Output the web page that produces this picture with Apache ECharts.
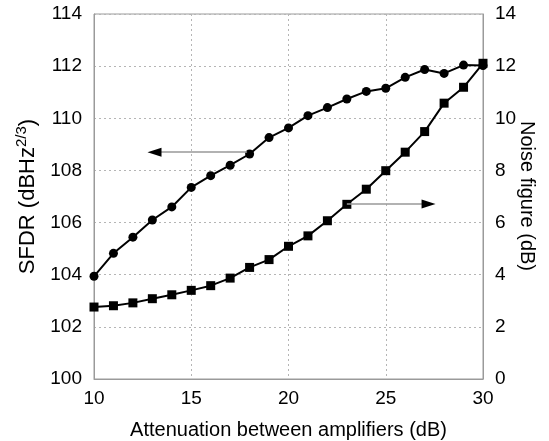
<!DOCTYPE html>
<html><head><meta charset="utf-8">
<script src="https://cdn.jsdelivr.net/npm/echarts@6/dist/echarts.min.js"></script>
<style>html,body{margin:0;padding:0;background:#fff}#c{width:549px;height:441px}</style>
</head><body><div id="c"></div>
<script>
const attenuation = [10,11,12,13,14,15,16,17,18,19,20,21,22,23,24,25,26,27,28,29,30];
const sfdr = [103.94,104.82,105.44,106.10,106.60,107.35,107.80,108.20,108.63,109.26,109.63,110.10,110.41,110.74,111.03,111.15,111.57,111.87,111.72,112.04,112.02];
const noiseFigure = [2.76,2.81,2.92,3.08,3.23,3.40,3.58,3.87,4.28,4.58,5.09,5.49,6.07,6.70,7.28,7.99,8.70,9.49,10.58,11.19,12.11];
const xTicks = [10,15,20,25,30];
const leftTicks = [100,102,104,106,108,110,112,114];
const rightTicks = [0,2,4,6,8,10,12,14];
// annotation arrows (data coordinates)
const sfdrArrow = {from:[17.87,108.7], to:[13.3,108.7], head:[13.11,108.7]};
const nfArrow = {from:[23.0,6.71], to:[26.9,6.71], head:[27.2,6.71]};
const rightAxisTitle = 'Noise figure (dB)';

const font = 'Liberation Sans, Arial, sans-serif';
const fs = 19;
const fsName = 20;
const chart = echarts.init(document.getElementById('c'));
chart.setOption({
  animation:false,
  backgroundColor:'#fff',
  grid:{left:94,right:66,top:14,bottom:62,containLabel:false,outerBoundsMode:'none',show:true,borderColor:'#9a9a9a',borderWidth:1,backgroundColor:'transparent'},
  graphic:[{type:'text',x:527,y:196,rotation:-Math.PI/2,silent:true,
    style:{text:rightAxisTitle,font:fsName+'px '+font,fill:'#000',textAlign:'center',textVerticalAlign:'middle'}}],
  xAxis:{type:'value',min:xTicks[0],max:xTicks[xTicks.length-1],interval:5,
    name:'Attenuation between amplifiers (dB)',nameLocation:'middle',nameGap:41,nameMoveOverlap:false,
    nameTextStyle:{fontFamily:font,fontSize:fsName,color:'#000'},
    axisLine:{lineStyle:{color:'#9a9a9a'}},axisTick:{show:false},
    axisLabel:{fontFamily:font,fontSize:fs,color:'#000',margin:10},
    splitLine:{show:true,lineStyle:{color:'#b5b5b5',type:[2,3]}}},
  yAxis:[
    {type:'value',min:leftTicks[0],max:leftTicks[leftTicks.length-1],interval:2,
     name:'{n|SFDR (dBHz}{s|2/3}{n|)}',nameLocation:'middle',nameGap:53,nameRotate:90,
     nameTextStyle:{rich:{n:{fontFamily:font,fontSize:22,color:'#000'},s:{fontFamily:font,fontSize:15,color:'#000',verticalAlign:'top',padding:[0,0,12,0]}}},
     axisLine:{show:true,lineStyle:{color:'#9a9a9a'}},axisTick:{show:false},
     axisLabel:{fontFamily:font,fontSize:fs,color:'#000',margin:12},
     splitLine:{show:true,lineStyle:{color:'#b5b5b5',type:[2,3]}}},
    {type:'value',min:rightTicks[0],max:rightTicks[rightTicks.length-1],interval:2,position:'right',
     axisLine:{show:true,lineStyle:{color:'#9a9a9a'}},axisTick:{show:false},
     axisLabel:{fontFamily:font,fontSize:fs,color:'#000',margin:12},
     splitLine:{show:false}}
  ],
  series:[
    {type:'line',yAxisIndex:0,data:attenuation.map((x,i)=>[x,sfdr[i]]),
     symbol:'circle',symbolSize:9,lineStyle:{color:'#000',width:2},itemStyle:{color:'#000'},
     markLine:{silent:true,symbol:'none',lineStyle:{color:'#999',width:1.5,type:'solid'},label:{show:false},
       data:[[{coord:sfdrArrow.from},{coord:sfdrArrow.to}]]},
     markPoint:{silent:true,symbol:'triangle',symbolSize:[9,14],symbolRotate:90,itemStyle:{color:'#000'},label:{show:false},
       data:[{coord:sfdrArrow.head}]}},
    {type:'line',yAxisIndex:1,data:attenuation.map((x,i)=>[x,noiseFigure[i]]),
     symbol:'rect',symbolSize:9,lineStyle:{color:'#000',width:2},itemStyle:{color:'#000'},
     markLine:{silent:true,symbol:'none',lineStyle:{color:'#999',width:1.5,type:'solid'},label:{show:false},
       data:[[{coord:nfArrow.from},{coord:nfArrow.to}]]},
     markPoint:{silent:true,symbol:'triangle',symbolSize:[9,14],symbolRotate:-90,itemStyle:{color:'#000'},label:{show:false},
       data:[{coord:nfArrow.head}]}}
  ]
});
</script></body></html>
